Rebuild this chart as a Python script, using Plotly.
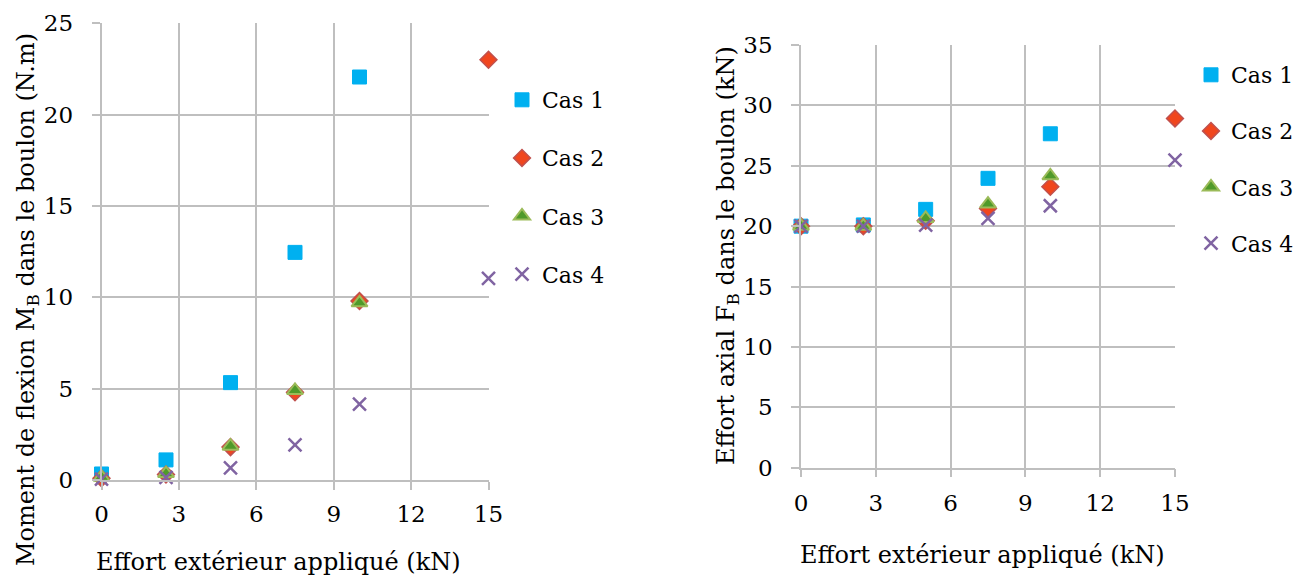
import plotly.graph_objects as go

# ---- Data ----
effort = [0, 2.5, 5, 7.5, 10, 15]

# Left chart: bending moment M_B (N.m)
mb_cas1 = [0.33, 1.1, 5.33, 12.46, 22.06, None]
mb_cas2 = [0.1, 0.3, 1.8, 4.8, 9.8, 23.0]
mb_cas3 = [0.15, 0.35, 1.85, 4.9, 9.7, None]
mb_cas4 = [0.05, 0.15, 0.67, 1.92, 4.16, 11.04]

# Right chart: axial force F_B (kN)
fb_cas1 = [20.0, 20.1, 21.39, 23.96, 27.65, None]
fb_cas2 = [20.0, 20.0, 20.45, 21.47, 23.26, 28.92]
fb_cas3 = [20.0, 20.0, 20.64, 21.83, 24.17, None]
fb_cas4 = [20.0, 20.0, 20.09, 20.64, 21.69, 25.47]

names = ["Cas 1", "Cas 2", "Cas 3", "Cas 4"]
x_ticks = [0, 3, 6, 9, 12, 15]

FONT = "'DejaVu Serif', serif"
GRID = "#BFBFBF"

styles = [
    dict(symbol="square", size=14, color="#00B0F0", line=dict(color="#00B0F0", width=1)),
    dict(symbol="diamond", size=13, color="#F0461E", line=dict(color="#C0504D", width=1.5)),
    dict(symbol="triangle-up", size=14, color="#4F9A2A", line=dict(color="#9BBB59", width=2)),
    dict(symbol="x-thin", size=13, color="#8064A2", line=dict(color="#8064A2", width=2.5)),
]

fig = go.Figure()

left_series = [mb_cas1, mb_cas2, mb_cas3, mb_cas4]
right_series = [fb_cas1, fb_cas2, fb_cas3, fb_cas4]

for i, (name, ys) in enumerate(zip(names, left_series)):
    fig.add_trace(go.Scatter(
        x=effort, y=ys, mode="markers", name=name, marker=styles[i],
        xaxis="x", yaxis="y", legend="legend", legendgroup="L%d" % i,
        cliponaxis=False,
    ))
for i, (name, ys) in enumerate(zip(names, right_series)):
    fig.add_trace(go.Scatter(
        x=effort, y=ys, mode="markers", name=name, marker=styles[i],
        xaxis="x2", yaxis="y2", legend="legend2", legendgroup="R%d" % i,
        cliponaxis=False,
    ))

W, H = 1308, 581

def axis_common():
    return dict(
        showgrid=True, gridcolor=GRID, gridwidth=1.5,
        showline=True, linecolor=GRID, linewidth=1.5,
        ticks="outside", ticklen=8, tickcolor=GRID, tickwidth=1.5,
        tickfont=dict(family=FONT, size=23, color="#000000"),
        zeroline=False, fixedrange=True, automargin=False,
    )

ax = axis_common()
fig.update_layout(
    width=W, height=H,
    margin=dict(l=0, r=0, t=0, b=0, autoexpand=False),
    paper_bgcolor="white", plot_bgcolor="white",
    font=dict(family=FONT, size=23, color="#000000"),
    xaxis=dict(**ax, domain=[101.5 / W, 488.5 / W], range=[0, 15],
               tickvals=x_ticks, anchor="y", ticklabelstandoff=5),
    yaxis=dict(**ax, domain=[1 - 480 / H, 1 - 23.3 / H], range=[0, 25],
               dtick=5, anchor="x", ticklabelstandoff=14),
    xaxis2=dict(**ax, domain=[801 / W, 1175 / W], range=[0, 15],
                tickvals=x_ticks, anchor="y2", ticklabelstandoff=6),
    yaxis2=dict(**ax, domain=[1 - 467.7 / H, 1 - 45 / H], range=[0, 35],
                dtick=5, anchor="x2", ticklabelstandoff=14),
    legend=dict(x=502 / W, y=1 - 79 / H, xanchor="left", yanchor="top",
                font=dict(family=FONT, size=22), tracegroupgap=26.5,
                bgcolor="rgba(0,0,0,0)"),
    legend2=dict(x=1191 / W, y=1 - 54 / H, xanchor="left", yanchor="top",
                 font=dict(family=FONT, size=22), tracegroupgap=24.5,
                 bgcolor="rgba(0,0,0,0)"),
    showlegend=True,
)

annotations = [
    dict(text="Effort extérieur appliqué (kN)", x=278 / W, y=1 - 562 / H,
         xref="paper", yref="paper", showarrow=False,
         font=dict(family=FONT, size=24), xanchor="center", yanchor="middle"),
    dict(text="Effort extérieur appliqué (kN)", x=983 / W, y=1 - 555 / H,
         xref="paper", yref="paper", showarrow=False,
         font=dict(family=FONT, size=24), xanchor="center", yanchor="middle"),
    dict(text="Moment de flexion M<sub>B</sub> dans le boulon (N.m)", x=27 / W, y=1 - 300 / H,
         xref="paper", yref="paper", showarrow=False, textangle=-90,
         font=dict(family=FONT, size=24), xanchor="center", yanchor="middle"),
    dict(text="Effort axial F<sub>B</sub> dans le boulon (kN)", x=728 / W, y=1 - 256 / H,
         xref="paper", yref="paper", showarrow=False, textangle=-90,
         font=dict(family=FONT, size=24), xanchor="center", yanchor="middle"),
]
fig.update_layout(annotations=annotations)

fig.write_html("out.html", config={"displayModeBar": False},
               post_script="document.body.style.margin='0px';")
